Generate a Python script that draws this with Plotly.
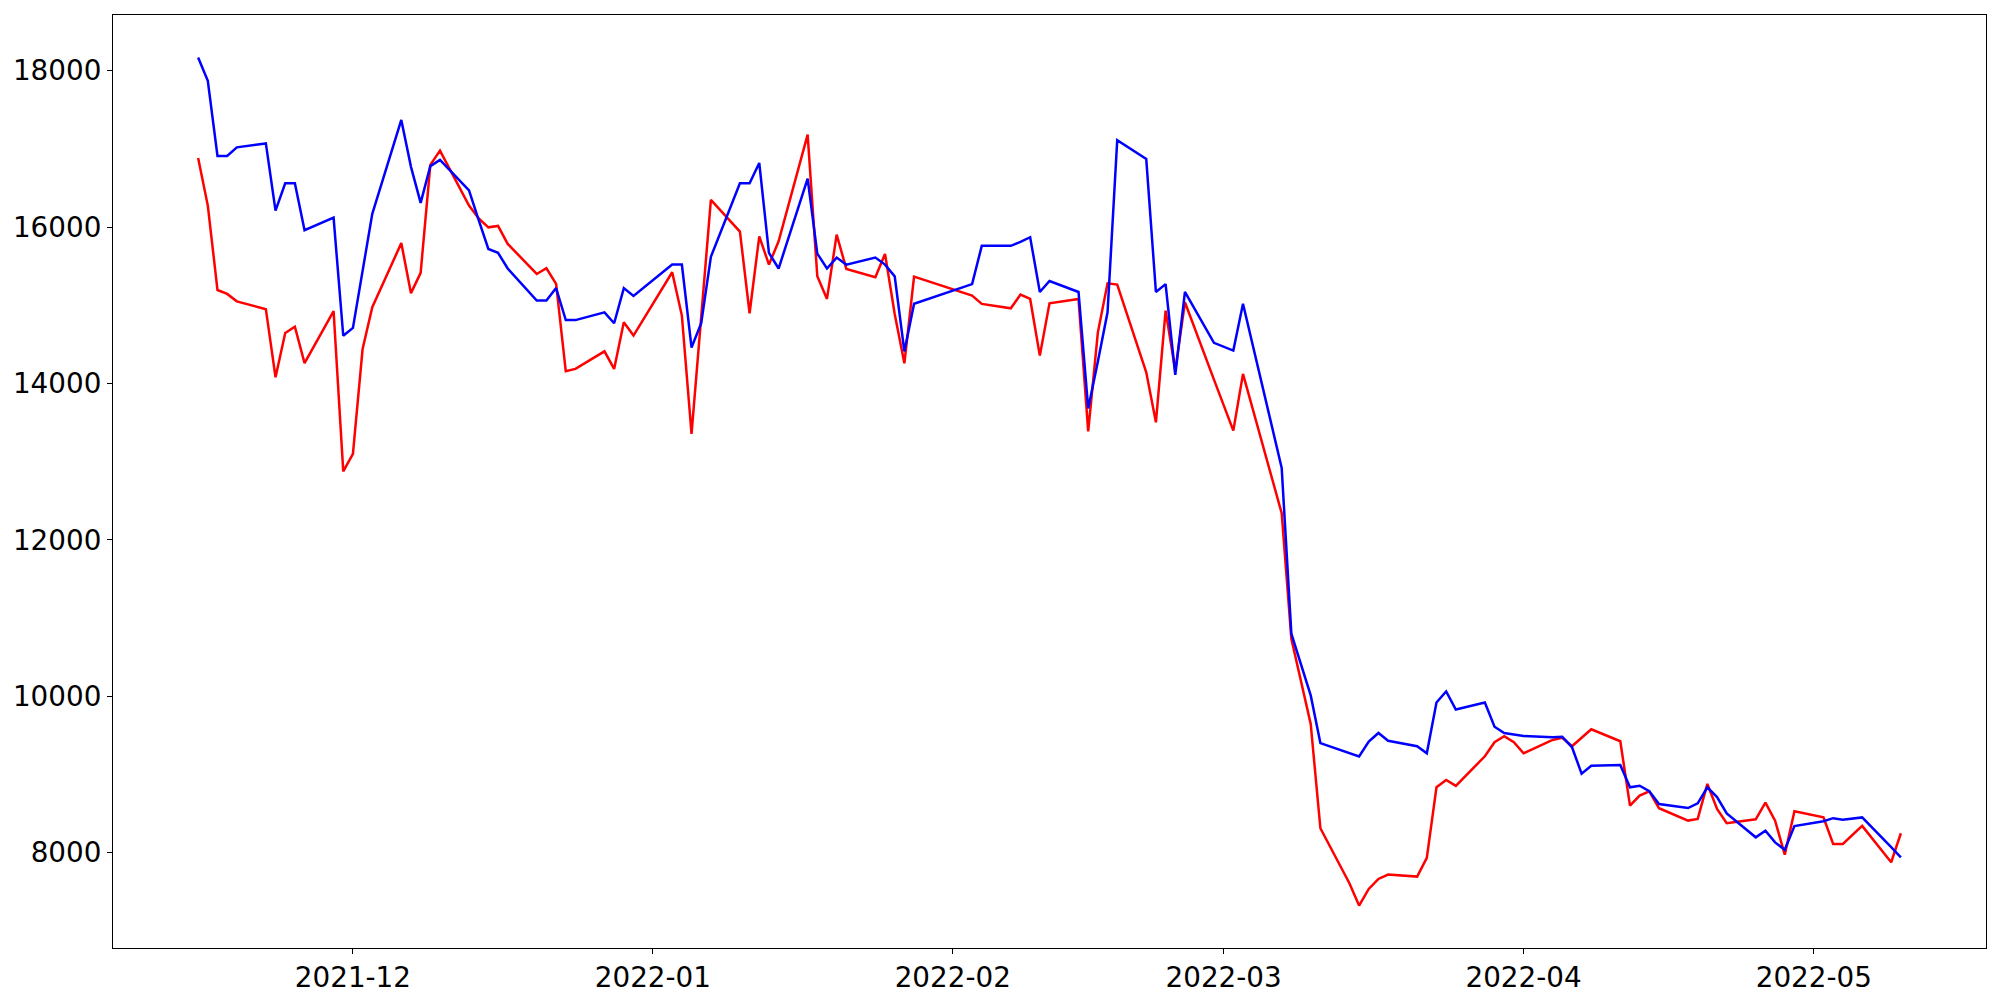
import pandas as pd
import plotly.graph_objects as go

# Trading days (Korean market calendar: weekdays minus holidays)
holidays = ["2021-12-31", "2022-01-31", "2022-02-01", "2022-02-02",
            "2022-03-01", "2022-03-09", "2022-05-05"]
all_days = pd.bdate_range("2021-11-15", "2022-05-10")
dates = [d for d in all_days if d.strftime("%Y-%m-%d") not in holidays]

red_values = [
    # Nov
    16885, 16275, 15195, 15145, 15050, 14950, 14080, 14645, 14725, 14260, 14925, 12875,
    # Dec
    13100, 14440, 14975, 15795, 15155, 15415, 16795, 16978, 16275, 16110, 15997, 16015,
    15785, 15400, 15473, 15273, 14156, 14186, 14411, 14186, 14782, 14612,
    # Jan
    15422, 14868, 13355, 14820, 16347, 15942, 14898, 15882, 15520, 15818, 17183, 15371,
    15081, 15904, 15465, 15358, 15657, 14889, 14258, 15367,
    # Feb
    15124, 15017, 14961, 15136, 15081, 14356, 15025, 15081, 13388, 14654, 15281, 15264,
    14143, 13503, 14932, 14164, 15038, 14049,
    # Mar
    13397, 14122, 13680, 12340, 10733, 9646, 8311, 7608, 7322, 7535, 7663, 7719,
    7693, 7932, 8835, 8929, 8853, 9232, 9411, 9487, 9411,
    # Apr
    9270, 9441, 9467, 9360, 9467, 9577, 9424, 8601, 8729, 8784, 8567, 8409,
    8431, 8878, 8559, 8375, 8426, 8639, 8409, 7974, 8529,
    # May
    8452, 8111, 8111, 8341, 7876, 8247,
]

blue_values = [
    # Nov
    18170, 17870, 16910, 16910, 17020, 17070, 16210, 16560, 16560, 15960, 16120, 14610,
    # Dec
    14710, 15440, 16170, 17370, 16770, 16310, 16780, 16860, 16470, 16090, 15720, 15670,
    15470, 15060, 15060, 15220, 14810, 14810, 14910, 14770, 15220, 15120,
    # Jan
    15520, 15520, 14460, 14770, 15620, 16560, 16560, 16820, 15670, 15470, 16620, 15660,
    15470, 15610, 15520, 15610, 15520, 15370, 14410, 15020,
    # Feb
    15270, 15760, 15760, 15810, 15870, 15170, 15310, 15170, 13680, 14280, 14910, 17110,
    16870, 15170, 15270, 14110, 15170, 14520,
    # Mar
    14420, 15020, 14490, 12920, 10800, 10010, 9400, 9280, 9230, 9420, 9530, 9430,
    9360, 9270, 9920, 10060, 9830, 9920, 9610, 9530, 9510,
    # Apr
    9490, 9475, 9480, 9350, 9010, 9110, 9120, 8835, 8855, 8785, 8620, 8570,
    8630, 8835, 8710, 8500, 8195, 8280, 8130, 8035, 8340,
    # May
    8400, 8440, 8420, 8450, 8070, 7940,
]

y_ticks = [8000, 10000, 12000, 14000, 16000, 18000]
x_tick_dates = ["2021-12-01", "2022-01-01", "2022-02-01", "2022-03-01", "2022-04-01", "2022-05-01"]
x_tick_labels = ["2021-12", "2022-01", "2022-02", "2022-03", "2022-04", "2022-05"]

# matplotlib-like 5% margins
t0, t1 = dates[0], dates[-1]
span = t1 - t0
x_range = [t0 - span * 0.05, t1 + span * 0.05]
vmin = min(min(red_values), min(blue_values))
vmax = max(max(red_values), max(blue_values))
vr = vmax - vmin
y_range = [vmin - 0.05 * vr, vmax + 0.05 * vr]

fig = go.Figure()
fig.add_trace(go.Scatter(x=dates, y=red_values, mode="lines",
                         line=dict(color="#ff0000", width=2.5), showlegend=False))
fig.add_trace(go.Scatter(x=dates, y=blue_values, mode="lines",
                         line=dict(color="#0000ff", width=2.5), showlegend=False))

axis_common = dict(showline=True, linecolor="black", linewidth=1.1, mirror=True,
                   ticks="outside", ticklen=5, tickwidth=1.1, tickcolor="black",
                   showgrid=False, zeroline=False, automargin=False,
                   tickfont=dict(family="DejaVu Sans", size=27.8, color="black"))

fig.update_layout(
    width=2000, height=1000,
    margin=dict(l=113, r=14, t=15, b=52, autoexpand=False),
    paper_bgcolor="white", plot_bgcolor="white",
    font=dict(family="DejaVu Sans", color="black"),
    xaxis=dict(range=x_range, tickvals=x_tick_dates, ticktext=x_tick_labels, **axis_common),
    yaxis=dict(range=y_range, tickvals=y_ticks, ticktext=[str(v) for v in y_ticks], **axis_common),
)

fig.write_html("out.html", config={"displayModeBar": False},
               post_script="document.body.style.margin='0';")
